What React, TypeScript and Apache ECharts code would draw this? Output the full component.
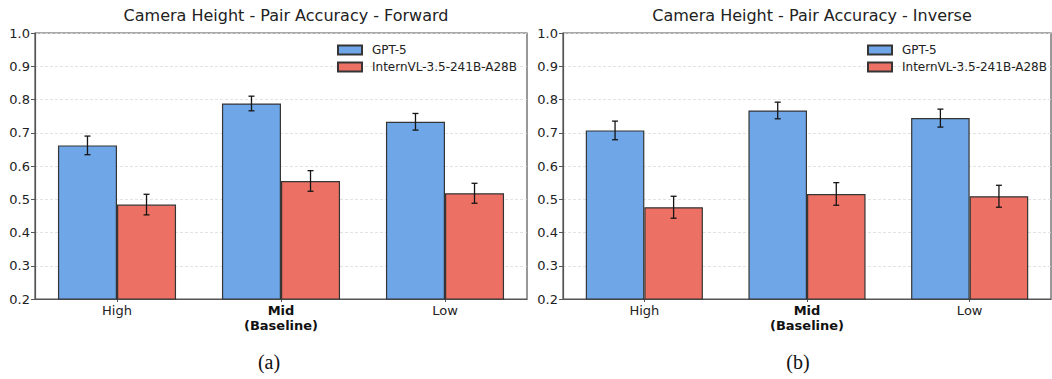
import React, { useEffect, useRef } from "react";
import * as echarts from "echarts";

const categories = ["High", "Mid\n(Baseline)", "Low"];
const seriesNames = ["GPT-5", "InternVL-3.5-241B-A28B"];
const panelTitles = [
  "Camera Height - Pair Accuracy - Forward",
  "Camera Height - Pair Accuracy - Inverse",
];
const captions = ["(a)", "(b)"];

const forwardGpt = [0.662, 0.788, 0.733];
const forwardGptErr = [0.028, 0.022, 0.025];
const forwardIntern = [0.484, 0.555, 0.518];
const forwardInternErr = [0.031, 0.031, 0.03];

const inverseGpt = [0.707, 0.767, 0.744];
const inverseGptErr = [0.028, 0.025, 0.027];
const inverseIntern = [0.476, 0.516, 0.509];
const inverseInternErr = [0.033, 0.034, 0.033];

const yTicks = [0.2, 0.3, 0.4, 0.5, 0.6, 0.7, 0.8, 0.9, 1.0];

const BLUE = "#6ea6e8";
const RED = "#ec7063";
const EDGE = "#353535";
const AXIS = "#555555";
const FONT = "DejaVu Sans";
const BAR_FRAC = 0.36;

const panels = [
  { gpt: forwardGpt, gptErr: forwardGptErr, intern: forwardIntern, internErr: forwardInternErr, left: 35, width: 492, legendLeft: 337, captionX: 264 },
  { gpt: inverseGpt, gptErr: inverseGptErr, intern: inverseIntern, internErr: inverseInternErr, left: 563, width: 488, legendLeft: 867, captionX: 793 },
];

export default function App() {
  const ref = useRef<HTMLDivElement>(null);
  useEffect(() => {
    if (!ref.current) return;
    const chart = echarts.init(ref.current, null, { renderer: "svg" });

    const grids = panels.map((p) => ({
      left: p.left,
      width: p.width,
      top: 33,
      height: 266,
      show: true,
      borderColor: AXIS,
      borderWidth: 1.2,
      backgroundColor: "transparent",
    }));

    const xAxes = panels.map((_, i) => ({
      type: "category",
      gridIndex: i,
      data: categories,
      axisLine: { lineStyle: { color: AXIS, width: 1.2 } },
      axisTick: { show: true, alignWithLabel: true, length: 3, lineStyle: { color: AXIS } },
      axisLabel: {
        color: "#222",
        fontFamily: FONT,
        fontSize: 13,
        margin: 4,
        lineHeight: 15,
        formatter: (v: string) =>
          v.includes("(Baseline)")
            ? v
                .split("\n")
                .map((s) => `{b|${s}}`)
                .join("\n")
            : v,
        rich: {
          b: { fontWeight: "bold", fontFamily: FONT, fontSize: 13, color: "#111", lineHeight: 15 },
        },
      },
      splitLine: { show: false },
    }));

    const yAxes = panels.map((_, i) => ({
      type: "value",
      gridIndex: i,
      min: yTicks[0],
      max: yTicks[yTicks.length - 1],
      interval: 0.1,
      axisLine: { show: true, lineStyle: { color: AXIS, width: 1.2 } },
      axisTick: { show: true, length: 4, lineStyle: { color: AXIS } },
      axisLabel: {
        color: "#222",
        fontFamily: FONT,
        fontSize: 13,
        margin: 5,
        formatter: (v: number) => v.toFixed(1),
      },
      splitLine: {
        show: true,
        lineStyle: { color: "#dcdcdc", type: [3, 2], width: 0.8 },
      },
    }));

    const series: any[] = [];
    panels.forEach((p, i) => {
      series.push({
        type: "bar",
        name: seriesNames[0],
        xAxisIndex: i,
        yAxisIndex: i,
        data: p.gpt,
        barWidth: `${BAR_FRAC * 100}%`,
        barGap: "0%",
        itemStyle: { color: BLUE, borderColor: EDGE, borderWidth: 1.2 },
        z: 2,
      });
      series.push({
        type: "bar",
        name: seriesNames[1],
        xAxisIndex: i,
        yAxisIndex: i,
        data: p.intern,
        barWidth: `${BAR_FRAC * 100}%`,
        barGap: "0%",
        itemStyle: { color: RED, borderColor: EDGE, borderWidth: 1.2 },
        z: 2,
      });
      const errData: number[][] = [];
      p.gpt.forEach((v, k) => errData.push([k, v - p.gptErr[k], v + p.gptErr[k], 0]));
      p.intern.forEach((v, k) => errData.push([k, v - p.internErr[k], v + p.internErr[k], 1]));
      series.push({
        type: "custom",
        name: "err" + i,
        xAxisIndex: i,
        yAxisIndex: i,
        data: errData,
        encode: { x: 0, y: [1, 2] },
        z: 10,
        silent: true,
        renderItem: (params: any, api: any) => {
          const idx = api.value(0);
          const lo = api.value(1);
          const hi = api.value(2);
          const s = api.value(3);
          const band = api.size([1, 0])[0];
          const bw = band * BAR_FRAC;
          const off = s === 0 ? -bw / 2 : bw / 2;
          const pLo = api.coord([idx, lo]);
          const pHi = api.coord([idx, hi]);
          const x = pLo[0] + off;
          const st = { stroke: "#151515", lineWidth: 1.3 };
          return {
            type: "group",
            children: [
              { type: "line", shape: { x1: x, y1: pLo[1], x2: x, y2: pHi[1] }, style: st },
              { type: "line", shape: { x1: x - 3, y1: pLo[1], x2: x + 3, y2: pLo[1] }, style: st },
              { type: "line", shape: { x1: x - 3, y1: pHi[1], x2: x + 3, y2: pHi[1] }, style: st },
            ],
          };
        },
      });
    });

    const legends = panels.map((p) => ({
      left: p.legendLeft,
      top: 43,
      padding: 0,
      orient: "vertical",
      itemWidth: 24,
      itemHeight: 9,
      itemGap: 3,
      icon: "rect",
      data: seriesNames,
      selectedMode: false,
      textStyle: { fontFamily: FONT, fontSize: 12, color: "#222", padding: [0, 0, 0, 5], lineHeight: 14 },
    }));

    const titles: any[] = [];
    panels.forEach((p, i) => {
      titles.push({
        text: panelTitles[i],
        left: p.left + p.width / 2,
        textAlign: "center",
        top: 2,
        textStyle: { fontFamily: FONT, fontSize: 16, fontWeight: "normal", color: "#222" },
      });
      titles.push({
        text: captions[i],
        left: p.captionX,
        textAlign: "center",
        top: 347,
        textStyle: { fontFamily: "Liberation Serif", fontSize: 20, fontWeight: "normal", color: "#111" },
      });
    });

    chart.setOption({
      animation: false,
      backgroundColor: "#ffffff",
      title: titles,
      legend: legends,
      grid: grids,
      xAxis: xAxes,
      yAxis: yAxes,
      series,
    });
    return () => chart.dispose();
  }, []);

  return (
    <div
      ref={ref}
      style={{ position: "fixed", left: 0, top: 0, width: 1052, height: 379 }}
    />
  );
}
